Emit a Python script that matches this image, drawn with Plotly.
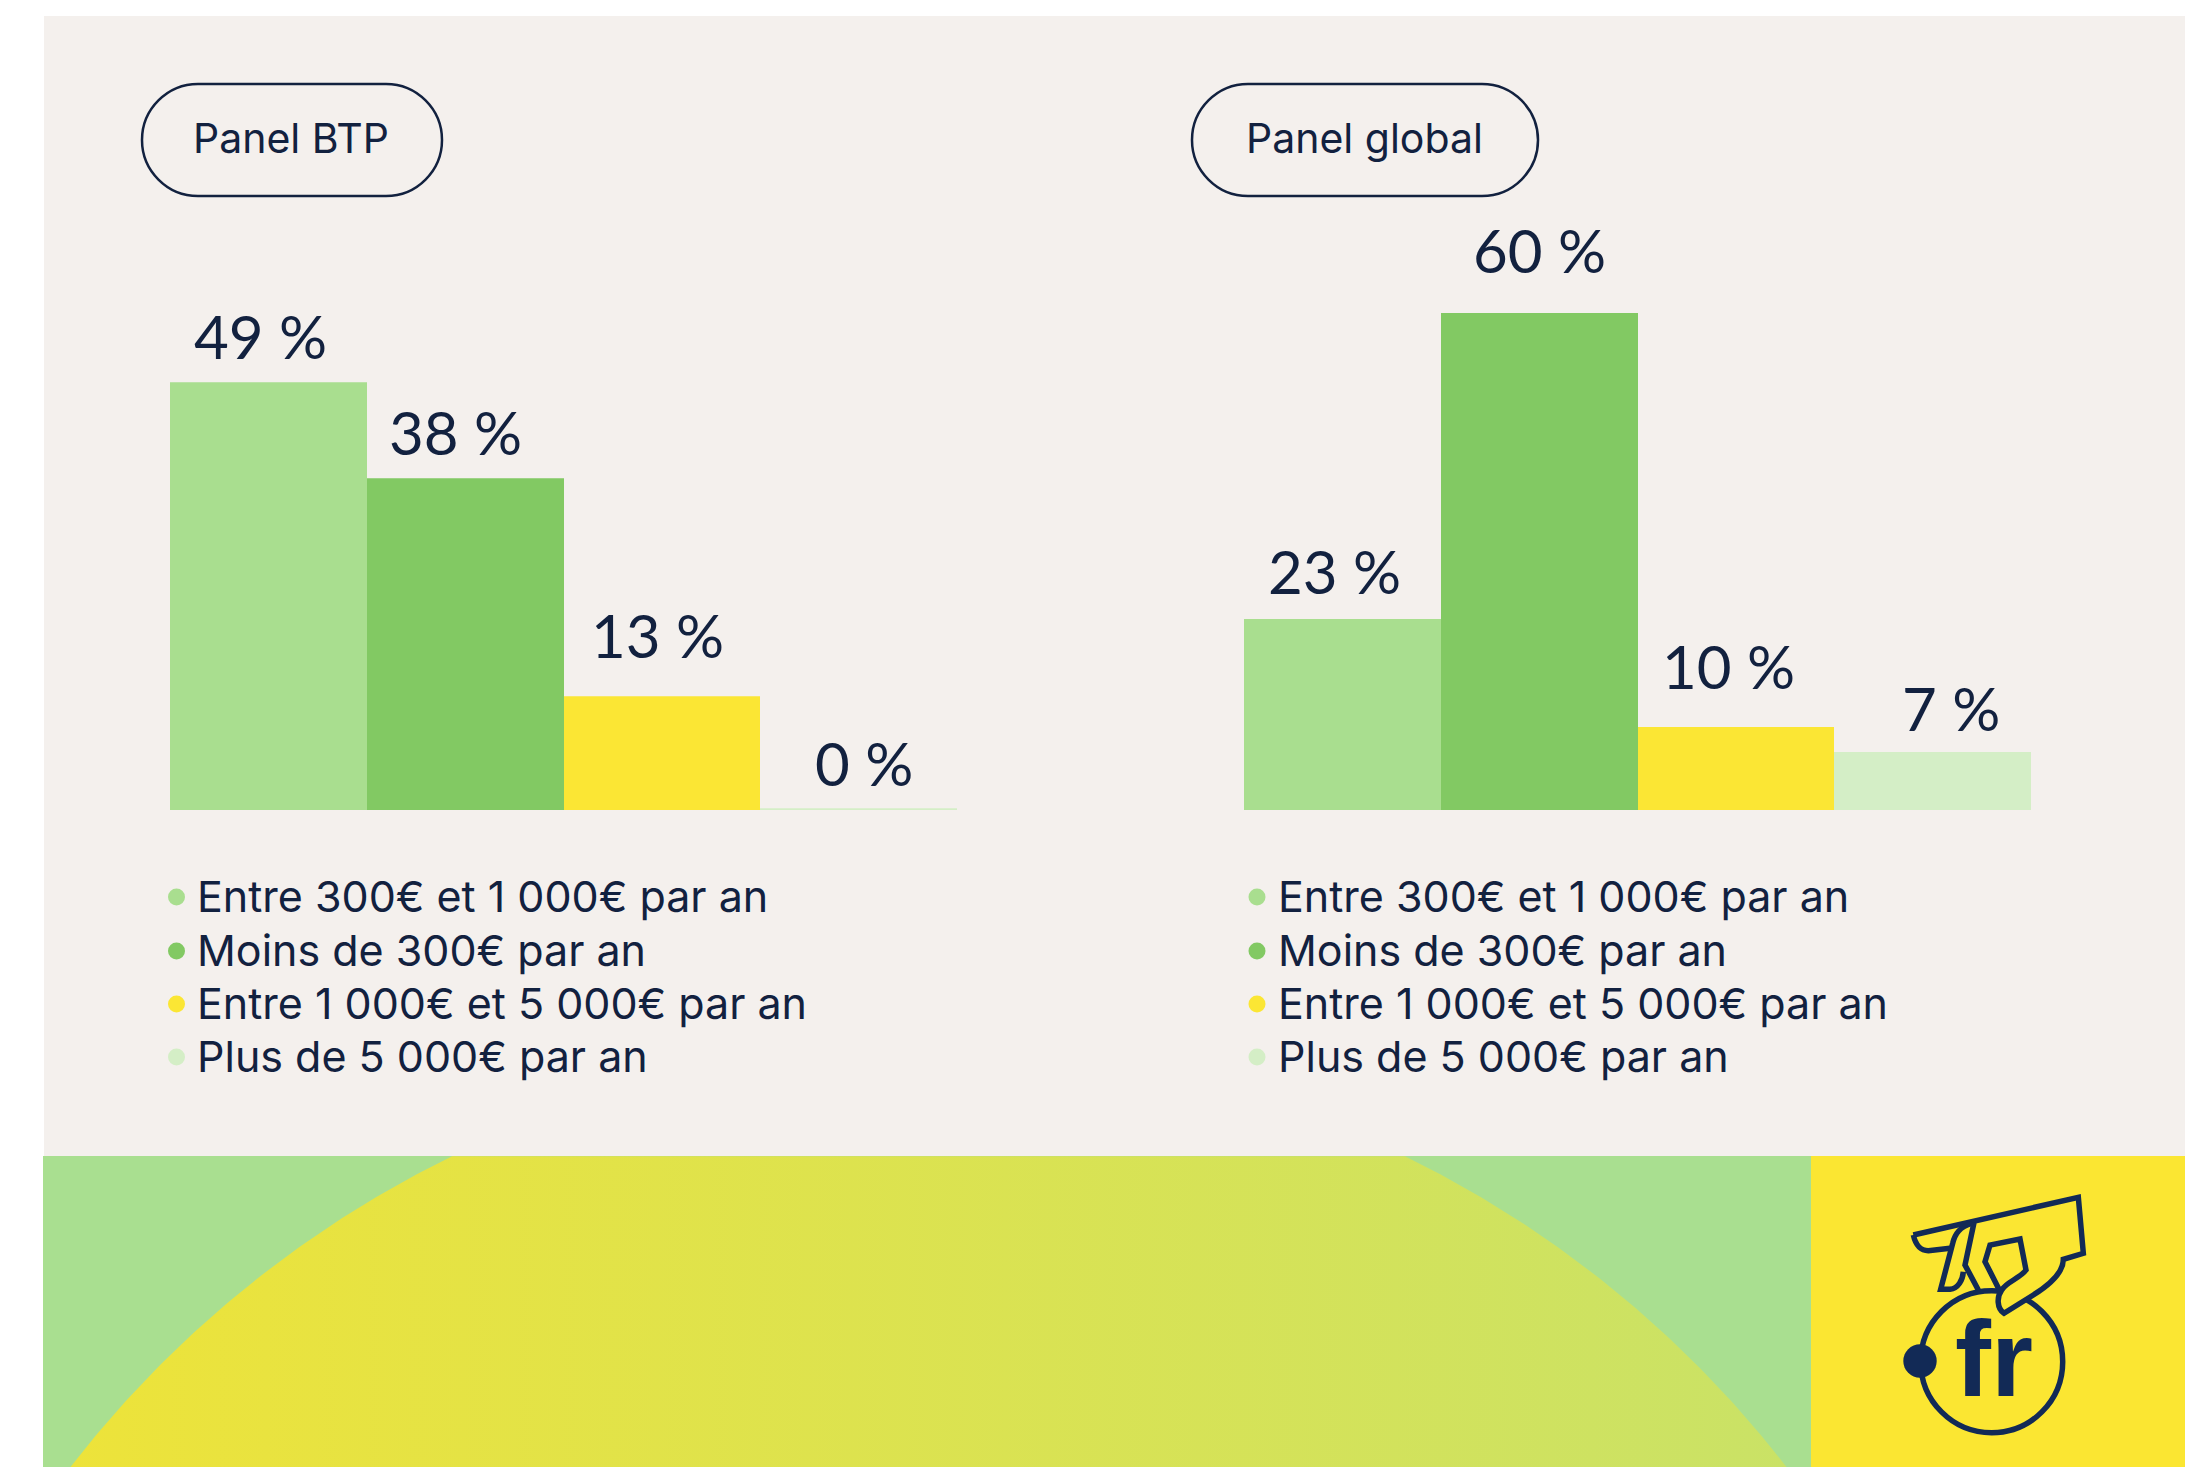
import numpy as np
import plotly.graph_objects as go

W, H = 2193, 1467
categories = ["Entre 300€ et 1 000€ par an", "Moins de 300€ par an",
              "Entre 1 000€ et 5 000€ par an", "Plus de 5 000€ par an"]
values_btp = [49, 38, 13, 0]
values_global = [23, 60, 10, 7]
panel_names = ["Panel BTP", "Panel global"]

colors = ["#A9DE8F", "#82C963", "#FBE634", "#D4EEC6"]
INK = "#12213F"
LOGO = "#122A56"
FONT = "Lato"
TEXT_FONT = "Inter"
LABEL_SIZE = 60
LEG_SIZE = 43
PILL_SIZE = 41

# label placement relative to the top of each bar (pixels)
dx_btp = [-8, -10, -4, 5]
gap_btp = [23, 23, 38, 24]
dx_global = [-8, 0, -7, 18]
gap_global = [25, 40, 38, 21]

def fx(p): return p / W
def fy(p): return 1 - p / H

fig = go.Figure()

# big disc with horizontal gradient, on a full-page pixel axis
cx, cy, r = 928.5, 2130.8, 1084.8
a1 = np.arccos((cy - 1467) / r)
ang = np.linspace(-a1, a1, 300)
px_arc = cx + r * np.sin(ang)
py_arc = cy - r * np.cos(ang)
keep = py_arc >= 1156
fig.add_trace(go.Scatter(
    x=px_arc[keep], y=py_arc[keep], mode="lines", line=dict(width=0),
    fill="toself", hoverinfo="skip", showlegend=False,
    fillgradient=dict(type="horizontal",
                      colorscale=[[0, "#EDE33A"], [1, "#CAE266"]]),
    xaxis="x", yaxis="y"))

# bars
fig.add_trace(go.Bar(x=categories, y=values_btp, xaxis="x2", yaxis="y2",
                     marker=dict(color=colors, line=dict(color=colors, width=[0, 0, 0, 4])),
                     showlegend=False, hoverinfo="x+y"))
fig.add_trace(go.Bar(x=categories, y=values_global, xaxis="x3", yaxis="y3",
                     marker=dict(color=colors, line=dict(width=0)),
                     showlegend=False, hoverinfo="x+y"))

hidden = dict(visible=False, fixedrange=True)
layout = dict(
    width=W, height=H, margin=dict(l=0, r=0, t=0, b=0),
    paper_bgcolor="#FFFFFF", plot_bgcolor="rgba(0,0,0,0)",
    bargap=0, showlegend=False,
    xaxis=dict(range=[0, W], domain=[0, 1], **hidden),
    yaxis=dict(range=[H, 0], domain=[0, 1], **hidden),
    xaxis2=dict(type="category", range=[-0.5, 3.5], domain=[fx(170), fx(957)], anchor="y2", **hidden),
    yaxis2=dict(range=[0, 60], domain=[fy(810), fy(810 - 60 * 8.73)], anchor="x2", **hidden),
    xaxis3=dict(type="category", range=[-0.5, 3.5], domain=[fx(1244), fx(2031)], anchor="y3", **hidden),
    yaxis3=dict(range=[0, 60], domain=[fy(810), fy(313)], anchor="x3", **hidden),
)

def rect(x0, y0, x1, y1, color, layer="below"):
    return dict(type="rect", xref="x", yref="y", x0=x0, y0=y0, x1=x1, y1=y1,
                fillcolor=color, line=dict(width=0), layer=layer)

def pill(x0, y0, x1, y1):
    r_ = (y1 - y0) / 2
    path = (f"M{x0+r_},{y0} L{x1-r_},{y0} C{x1-r_*0.45},{y0} {x1},{y0+r_*0.45} {x1},{y0+r_} "
            f"C{x1},{y1-r_*0.45} {x1-r_*0.45},{y1} {x1-r_},{y1} L{x0+r_},{y1} "
            f"C{x0+r_*0.45},{y1} {x0},{y1-r_*0.45} {x0},{y0+r_} "
            f"C{x0},{y0+r_*0.45} {x0+r_*0.45},{y0} {x0+r_},{y0} Z")
    return dict(type="path", xref="x", yref="y", path=path,
                line=dict(color=INK, width=2.5), fillcolor="rgba(0,0,0,0)", layer="above")

def dot(xc, yc, rad, color, line=None, fill=True):
    return dict(type="circle", xref="x", yref="y", x0=xc - rad, x1=xc + rad, y0=yc - rad, y1=yc + rad,
                fillcolor=color if fill else "rgba(0,0,0,0)",
                line=dict(width=0) if line is None else line, layer="above")

def logo_path(segments, stroke=True, fill=None):
    # segments written in a 3x local frame with origin at (1900, 1190)
    out = []
    for tok in segments.split():
        if "," in tok:
            head = ""
            if tok[0].isalpha():
                head, tok = tok[0], tok[1:]
            a, b = tok.split(",")
            out.append(f"{head}{1900 + float(a) / 3:.2f},{1190 + float(b) / 3:.2f}")
        else:
            out.append(tok)
    return dict(type="path", xref="x", yref="y", path=" ".join(out),
                line=dict(color=LOGO, width=5.5) if stroke else dict(width=0),
                fillcolor=fill if fill else "rgba(0,0,0,0)", layer="above")

shapes = [
    rect(44, 16, 2185, 1156, "#F4F0ED"),
    rect(43, 1156, 1811, 1467, "#A9DF90"),
    rect(1811, 1156, 2185, 1467, "#FBE632", layer="above"),
    pill(142, 84, 442, 196),
    pill(1192, 84, 1538, 196),
    dot(1991.7, 1361.7, 71, "#FBE632", line=dict(color=LOGO, width=5.5), fill=False),
    logo_path("M295,300 L305,375 L400,318 L385,240 L300,290 Z", stroke=False, fill="#FBE632"),
    logo_path("M40,135 L535,22 L550,190 L490,208 C490,250 440,290 400,315 L312,370 "
              "C290,355 290,320 305,300 C320,275 360,265 378,240 L360,147 L270,165 "
              "L255,215 L278,260 L298,300"),
    logo_path("M40,135 C48,170 65,182 85,182 L150,175"),
    logo_path("M215,100 C180,110 165,130 158,160 L122,298 L150,298 C175,295 188,270 190,245"),
    logo_path("M222,98 L195,225 L235,300"),
    dot(1920, 1361, 16.7, LOGO),
]

anns = []

def text_at(txt, x, base, size, xanchor="left", family=TEXT_FONT, color=INK, desc=0.24):
    anns.append(dict(text=txt, xref="x", yref="y", x=x, y=base + desc * size + 1,
                     xanchor=xanchor, yanchor="bottom", showarrow=False,
                     font=dict(family=family, size=size, color=color), borderpad=0))

text_at(panel_names[0], 291, 153, PILL_SIZE, "center")
text_at(panel_names[1], 1364, 153, PILL_SIZE, "center")
text_at("<b>fr</b>", 1993.5, 1396, 108, "center", family="Liberation Sans", color=LOGO, desc=0.213)

for ax, vals, dxs, gaps in (("2", values_btp, dx_btp, gap_btp),
                            ("3", values_global, dx_global, gap_global)):
    for c, v, dx, g in zip(categories, vals, dxs, gaps):
        anns.append(dict(text=f"{v} %", xref="x" + ax, yref="y" + ax, x=c, y=v,
                         xanchor="center", yanchor="bottom", showarrow=False,
                         xshift=dx, yshift=g - 0.213 * LABEL_SIZE - 1,
                         font=dict(family=FONT, size=LABEL_SIZE, color=INK), borderpad=0))

leg_base = [912, 966, 1019, 1072]
for x_dot, x_txt in ((176.5, 196), (1257, 1277)):
    for c, col, b in zip(categories, colors, leg_base):
        shapes.append(dot(x_dot, b - 15, 8.5, col))
        text_at(c, x_txt, b, LEG_SIZE)

layout["shapes"] = shapes
layout["annotations"] = anns
fig.update_layout(**layout)
fig.write_html("out.html", config=dict(displayModeBar=False),
               post_script="document.body.style.margin='0';document.body.style.overflow='hidden';")
